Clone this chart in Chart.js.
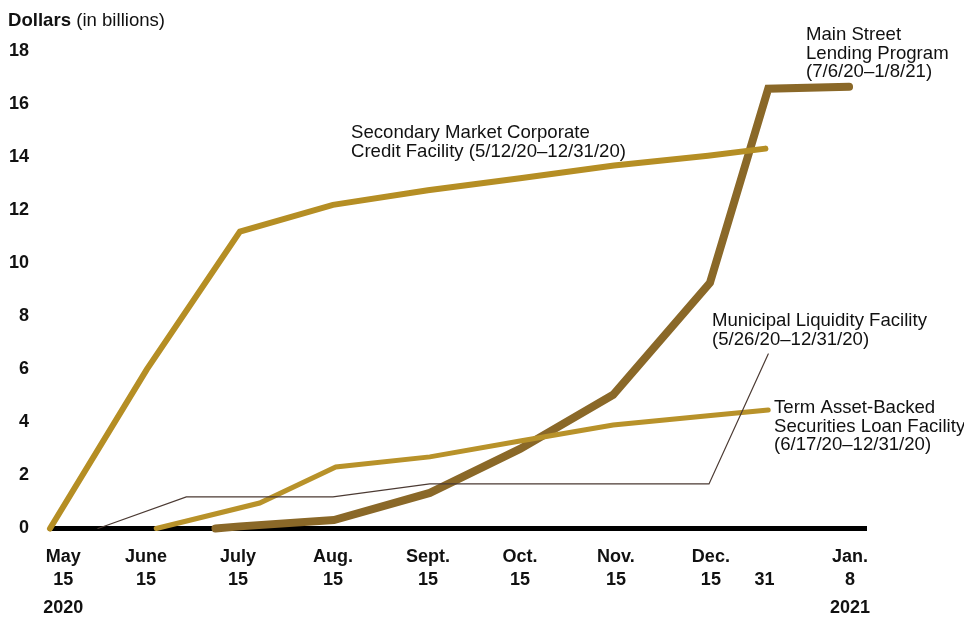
<!DOCTYPE html>
<html>
<head>
<meta charset="utf-8">
<script src="https://cdn.jsdelivr.net/npm/chart.js@4/dist/chart.umd.min.js"></script>
<style>
  html, body { margin: 0; padding: 0; background: #fff; }
  #wrap { width: 964px; height: 621px; position: relative; }
</style>
</head>
<body>
<div id="wrap"><canvas id="c"></canvas></div>
<script>
// x values are positions in months after May 15, 2020 (Dec 31 and Jan 8 stretched as in source)
const tickPositions = [0.14, 1.02, 2.0, 3.01, 4.02, 5.0, 6.02, 7.03, 7.6, 8.51];
const tickLabels = [["May","15"],["June","15"],["July","15"],["Aug.","15"],["Sept.","15"],["Oct.","15"],["Nov.","15"],["Dec.","15"],["","31"],["Jan.","8"]];
const yearLabels = [["2020", 0.14], ["2021", 8.51]];

const smccfX = [0, 1.03, 2.02, 3.01, 4.02, 5.0, 6.0, 7.0, 7.61];
const smccfY = [0, 6.0, 11.19, 12.2, 12.75, 13.2, 13.68, 14.05, 14.32];

const mslpX = [1.76, 2.02, 3.02, 4.04, 5.0, 5.99, 7.02, 7.64, 8.5];
const mslpY = [0, 0.08, 0.32, 1.34, 3.0, 5.04, 9.26, 16.58, 16.65];

const talfX = [1.13, 2.23, 3.04, 4.04, 5.0, 5.99, 7.0, 7.64];
const talfY = [0, 0.96, 2.32, 2.7, 3.3, 3.9, 4.25, 4.47];

const mlfX = [0.51, 1.45, 3.01, 4.04, 7.01, 7.64];
const mlfY = [0, 1.19, 1.19, 1.68, 1.68, 6.58];

const annotations = [
  { lines: ["Main Street", "Lending Program", "(7/6/20\u20131/8/21)"], x: 806, y: 35 },
  { lines: ["Secondary Market Corporate", "Credit Facility (5/12/20\u201312/31/20)"], x: 351, y: 133 },
  { lines: ["Municipal Liquidity Facility", "(5/26/20\u201312/31/20)"], x: 712, y: 321 },
  { lines: ["Term Asset-Backed", "Securities Loan Facility", "(6/17/20\u201312/31/20)"], x: 774, y: 408 }
];

const FONT = "'Liberation Sans', Arial, sans-serif";
const pts = (xs, ys) => xs.map((x, i) => ({ x: x, y: ys[i] }));

const textPlugin = {
  id: 'texts',
  afterDraw(chart) {
    const ctx = chart.ctx;
    ctx.save();
    ctx.fillStyle = '#111';
    // title
    ctx.textBaseline = 'alphabetic';
    ctx.textAlign = 'left';
    ctx.font = "bold 18.6px " + FONT;
    ctx.fillText("Dollars", 8, 26);
    const w = ctx.measureText("Dollars").width;
    ctx.font = "18.6px " + FONT;
    ctx.fillText(" (in billions)", 8 + w, 26);
    // annotations
    ctx.textBaseline = 'middle';
    annotations.forEach(a => {
      a.lines.forEach((l, i) => ctx.fillText(l, a.x, a.y + i * 18.5));
    });
    // years
    ctx.font = "bold 18px " + FONT;
    ctx.textAlign = 'center';
    const xs = chart.scales.x;
    yearLabels.forEach(([t, v]) => ctx.fillText(t, xs.getPixelForValue(v), 608));
    ctx.restore();
  }
};

new Chart(document.getElementById('c'), {
  type: 'line',
  data: {
    datasets: [
      { label: 'Main Street Lending Program', data: pts(mslpX, mslpY), borderColor: '#8A6828', borderWidth: 8, order: 3 },
      { label: 'Secondary Market Corporate Credit Facility', data: pts(smccfX, smccfY), borderColor: '#B58E24', borderWidth: 6, order: 2 },
      { label: 'Term Asset-Backed Securities Loan Facility', data: pts(talfX, talfY), borderColor: '#B8922A', borderWidth: 5, order: 1 },
      { label: 'Municipal Liquidity Facility', data: pts(mlfX, mlfY), borderColor: '#4B3A33', borderWidth: 1.2, order: 0 }
    ]
  },
  options: {
    responsive: true,
    maintainAspectRatio: false,
    animation: false,
    layout: { padding: { top: 51, right: 98, bottom: 0, left: 0 } },
    elements: {
      line: { tension: 0, borderCapStyle: 'round', borderJoinStyle: 'miter', fill: false },
      point: { radius: 0 }
    },
    datasets: { line: { clip: false } },
    plugins: { legend: { display: false }, tooltip: { enabled: false } },
    scales: {
      x: {
        type: 'linear', min: 0, max: 8.68,
        grid: { display: false, drawTicks: false, tickLength: 0 },
        border: { display: true, color: '#000', width: 5 },
        afterFit: s => { s.height = 92.5; },
        afterBuildTicks: s => { s.ticks = tickPositions.map(v => ({ value: v })); },
        ticks: {
          autoSkip: false, maxRotation: 0, padding: 17, color: '#111',
          font: { family: FONT, size: 18, weight: 'bold', lineHeight: 23 / 18 },
          callback: (v, i) => tickLabels[i]
        }
      },
      y: {
        min: 0, max: 18,
        grid: { display: false, drawTicks: false, tickLength: 0 },
        border: { display: false },
        afterFit: s => { s.width = 50; },
        ticks: {
          stepSize: 2, padding: 21, color: '#111',
          font: { family: FONT, size: 18, weight: 'bold' }
        }
      }
    }
  },
  plugins: [textPlugin]
});
</script>
</body>
</html>
